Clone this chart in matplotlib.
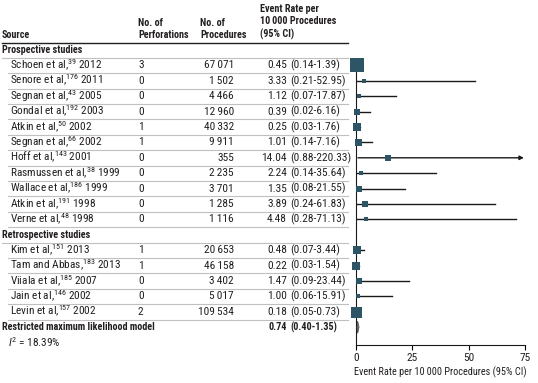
import numpy as np
import matplotlib
matplotlib.use("Agg")
import matplotlib.pyplot as plt
from matplotlib import font_manager
from matplotlib.transforms import blended_transform_factory
from matplotlib.patches import Polygon

# buscamos una fuente estrecha (con negrita) parecida a la del original
estrechas = {}
for f in font_manager.fontManager.ttflist:
    st = str(f.stretch)
    if 'Narrow' in f.name or 'Condensed' in f.name or 'condensed' in st:
        try:
            w = int(f.weight)
        except ValueError:
            w = 700 if 'bold' in str(f.weight) else 400
        estrechas.setdefault((f.name, st), set()).add(w)

fam, stretch = 'DejaVu Sans', 'normal'
elegidas = [k for k, ws in estrechas.items() if max(ws) >= 600 and min(ws) <= 500]
prefer = ['Liberation Sans Narrow', 'Roboto Condensed', 'DejaVu Sans', 'Open Sans', 'Noto Sans']
elegidas.sort(key=lambda k: prefer.index(k[0]) if k[0] in prefer else 99)
if elegidas:
    fam, stretch = elegidas[0]

plt.rcParams['font.family'] = [fam, 'DejaVu Sans']
plt.rcParams['font.stretch'] = stretch
plt.rcParams['mathtext.fontset'] = 'custom'
plt.rcParams['mathtext.rm'] = fam + ':stretch=' + stretch
plt.rcParams['mathtext.it'] = fam + ':italic:stretch=' + stretch
plt.rcParams['mathtext.bf'] = fam + ':bold:stretch=' + stretch

# datos del forest plot
prosp_names = ["Schoen et al", "Senore et al", "Segnan et al", "Gondal et al", "Atkin et al",
               "Segnan et al", "Hoff et al", "Rasmussen et al", "Wallace et al", "Atkin et al",
               "Verne et al"]
prosp_refs = ["39", "176", "43", "192", "50", "66", "143", "38", "186", "191", "48"]
prosp_years = [2012, 2011, 2005, 2003, 2002, 2002, 2001, 1999, 1999, 1998, 1998]
prosp_perf = [3, 0, 0, 0, 1, 1, 0, 0, 0, 0, 0]
prosp_proc = [67071, 1502, 4466, 12960, 40332, 9911, 355, 2235, 3701, 1285, 1116]
prosp_rate = [0.45, 3.33, 1.12, 0.39, 0.25, 1.01, 14.04, 2.24, 1.35, 3.89, 4.48]
prosp_lo = [0.14, 0.21, 0.07, 0.02, 0.03, 0.14, 0.88, 0.14, 0.08, 0.24, 0.28]
prosp_hi = [1.39, 52.95, 17.87, 6.16, 1.76, 7.16, 220.33, 35.64, 21.55, 61.83, 71.13]
prosp_box = [14, 5, 5, 6, 8, 7, 6, 5, 6, 6, 5]

retro_names = ["Kim et al", "Tam and Abbas", "Viiala et al", "Jain et al", "Levin et al"]
retro_refs = ["151", "183", "185", "146", "157"]
retro_years = [2013, 2013, 2007, 2002, 2002]
retro_perf = [1, 1, 0, 0, 2]
retro_proc = [20653, 46158, 3402, 5017, 109534]
retro_rate = [0.48, 0.22, 1.47, 1.00, 0.18]
retro_lo = [0.07, 0.03, 0.09, 0.06, 0.05]
retro_hi = [3.44, 1.54, 23.44, 15.91, 0.73]
retro_box = [8, 8, 6, 5, 11]

pooled_rate, pooled_lo, pooled_hi = 0.74, 0.40, 1.35
i2 = 18.39

xticks = [0, 25, 50, 75]
xmax = 75
xlabel = "Event Rate per 10\u2009000 Procedures (95% CI)"

W, H = 538, 383
fig = plt.figure(figsize=(W / 100, H / 100), dpi=100)

# calibramos tamaños con anchos medidos en el original
r = fig.canvas.get_renderer()
def calib(txt, px, bold=False):
    t = fig.text(0, 0, txt, fontsize=10, fontweight='bold' if bold else 'normal')
    w = t.get_window_extent(renderer=r).width
    t.remove()
    return min(9.0, 10 * px / w)

fs = calib("0.45 (0.14-1.39)", 72)
fsb = calib("Restricted maximum likelihood model", 153, bold=True)
fsl = calib(xlabel, 172)

ax = fig.add_axes([356 / W, 1 - 345 / H, (525 - 356) / W, (345 - 58) / H])

row_px = 15.4
top_px = 50.0
def prow(ypx):
    return (ypx - top_px) / row_px

ax.set_ylim(prow(345), prow(58))
ax.set_xlim(0, xmax)

tr = blended_transform_factory(fig.transFigure, ax.transData)
def fx(px):
    return px / W

tcol = '#231f20'
box_col = '#2e5566'

def thin(n):
    s = "{:,}".format(n)
    return s.replace(",", "\u2009")

# encabezados
fig.text(fx(2), 1 - 40 / H, "Source", fontsize=fsb, fontweight='bold', color=tcol, va='bottom')
fig.text(fx(138), 1 - 40 / H, "No. of\nPerforations", fontsize=fsb, fontweight='bold', color=tcol,
         va='bottom', linespacing=1.3)
fig.text(fx(200), 1 - 40 / H, "No. of\nProcedures", fontsize=fsb, fontweight='bold', color=tcol,
         va='bottom', linespacing=1.3)
fig.text(fx(260), 1 - 40 / H, "Event Rate per\n10\u2009000 Procedures\n(95% CI)", fontsize=fsb,
         fontweight='bold', color=tcol, va='bottom', linespacing=1.3)
ax.plot([fx(2), fx(348)], [prow(43)] * 2, color=tcol, lw=1.0, transform=tr, clip_on=False)

def section(row, title):
    ax.text(fx(2), row, title, transform=tr, fontsize=fsb, fontweight='bold', color=tcol, va='center')
    ax.plot([fx(2), fx(348)], [row + 0.5] * 2, color='#c0c0c0', lw=0.8, transform=tr, clip_on=False)

def study(row, name, ref, year, perf, proc, rate, lo, hi, box):
    ax.text(fx(10), row, name + ",$^{" + ref + "}$ " + str(year), transform=tr, fontsize=fs,
            color=tcol, va='center')
    ax.text(fx(138), row, str(perf), transform=tr, fontsize=fs, color=tcol, va='center')
    ax.text(fx(234), row, thin(proc), transform=tr, fontsize=fs, color=tcol, va='center', ha='right')
    ax.text(fx(287), row, "%.2f" % rate, transform=tr, fontsize=fs, color=tcol, va='center', ha='right')
    ax.text(fx(290), row, "(%.2f-%.2f)" % (lo, hi), transform=tr, fontsize=fs, color=tcol, va='center')
    ax.plot([fx(8), fx(348)], [row + 0.5] * 2, color='#c0c0c0', lw=0.8, transform=tr, clip_on=False)
    if hi > xmax:
        ax.annotate("", xy=(xmax - 0.5, row), xytext=(lo, row),
                    arrowprops=dict(arrowstyle='-|>', color='#1a1a1a', lw=1.0,
                                    mutation_scale=6, shrinkA=0, shrinkB=0))
    else:
        ax.plot([lo, hi], [row, row], color='#1a1a1a', lw=1.0)
    ax.plot([rate], [row], marker='s', markersize=box * 0.72, color=box_col, mec=box_col, mew=0,
            clip_on=False, zorder=3)

row = 0
section(row, "Prospective studies")
for i in range(len(prosp_names)):
    row += 1
    study(row, prosp_names[i], prosp_refs[i], prosp_years[i], prosp_perf[i], prosp_proc[i],
          prosp_rate[i], prosp_lo[i], prosp_hi[i], prosp_box[i])
row += 1
section(row, "Retrospective studies")
for i in range(len(retro_names)):
    row += 1
    study(row, retro_names[i], retro_refs[i], retro_years[i], retro_perf[i], retro_proc[i],
          retro_rate[i], retro_lo[i], retro_hi[i], retro_box[i])

# modelo combinado
row += 1
ax.text(fx(2), row, "Restricted maximum likelihood model", transform=tr, fontsize=fsb,
        fontweight='bold', color=tcol, va='center')
ax.text(fx(287), row, "%.2f" % pooled_rate, transform=tr, fontsize=fsb, fontweight='bold',
        color=tcol, va='center', ha='right')
ax.text(fx(290), row, "(%.2f-%.2f)" % (pooled_lo, pooled_hi), transform=tr, fontsize=fsb,
        fontweight='bold', color=tcol, va='center')
dh = 0.4
diamond = Polygon([[pooled_lo, row], [pooled_rate, row - dh], [pooled_hi, row], [pooled_rate, row + dh]],
                  closed=True, facecolor='#6b7a80', edgecolor='#444444', lw=0.5, clip_on=False, zorder=3)
ax.add_patch(diamond)
ax.text(fx(8), row + 0.95, "$I^2$ = %.2f%%" % i2, transform=tr, fontsize=fs, color=tcol, va='center')

for s in ['top', 'right']:
    ax.spines[s].set_visible(False)
ax.spines['left'].set_color('#1a1a1a')
ax.spines['bottom'].set_color('#1a1a1a')
ax.set_yticks([])
ax.set_xticks(xticks)
ax.tick_params(axis='x', direction='out', length=3.5, width=0.8, labelsize=fs, labelcolor=tcol, pad=2)
ax.set_xlabel(xlabel, fontsize=fsl, color=tcol, labelpad=3)

fig.savefig("out.png", dpi=100)
